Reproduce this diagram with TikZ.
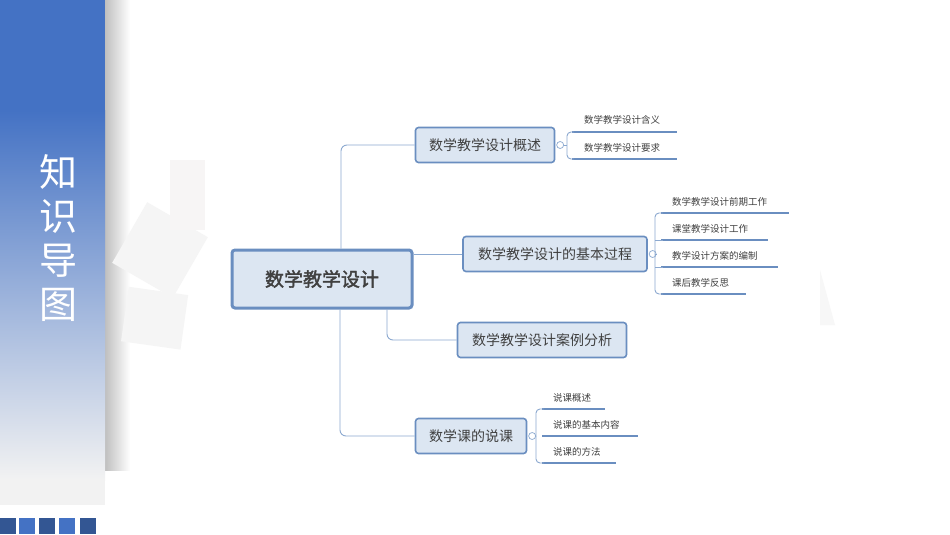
\documentclass[tikz,border=0pt]{standalone}
\usepackage{fontspec}
\setmainfont{Noto Sans CJK SC}
\newfontfamily\cjkbold[FakeBold=2]{Noto Sans CJK SC}
\usetikzlibrary{positioning}
\definecolor{panelblue}{HTML}{4472C4}
\definecolor{boxfill}{HTML}{DCE6F2}
\definecolor{boxline}{HTML}{6A8EC0}
\definecolor{linkcol}{HTML}{8CA9D0}
\definecolor{txt}{HTML}{404040}
\tikzset{
  topic/.style={draw=boxline, fill=boxfill, rounded corners=3pt, line width=1.6pt,
    minimum height=35pt, inner xsep=10pt, text=txt, font=\fontsize{14}{16}\selectfont},
  leaf/.style={anchor=west, inner sep=0pt, text=txt, font=\fontsize{9.5}{11}\selectfont},
  link/.style={draw=linkcol, line width=0.9pt},
  uline/.style={draw=boxline, line width=1.8pt},
  knob/.style={circle, draw=linkcol, fill=white, line width=0.7pt, inner sep=0pt, minimum size=7pt},
  sq/.style={minimum size=16pt, inner sep=0pt, anchor=north west}
}
\begin{document}
\begin{tikzpicture}[x=1pt,y=-1pt]
\useasboundingbox (0,0) rectangle (950,535);
\fill[white] (0,0) rectangle (950,535);
% side panel
\fill[left color=black!25, right color=white] (105,0) rectangle (130,470);
\fill[panelblue] (0,0) rectangle (105,110);
\shade[top color=panelblue, bottom color=black!5] (0,110) rectangle (105,480);
\fill[black!5] (0,480) rectangle (105,505);
\node[text=white, font=\fontsize{38}{44}\selectfont, align=center] (title) at (58,238) {知\\识\\导\\图};
% faint squares
\fill[black!4, rotate around={-30:(160,250)}] (125,215) rectangle (195,285);
\fill[red!20!black!4] (170,160) rectangle (205,230);
\fill[black!4, rotate around={-8:(150,315)}] (125,290) rectangle (185,345);
\fill[black!3] (820,270) -- (835,325) -- (820,325) -- cycle;
% bottom squares
\node[sq, fill=panelblue!75!black] (s1) at (0,518) {};
\node[sq, fill=panelblue] (s2) at (19,518) {};
\node[sq, fill=panelblue!75!black] (s3) at (39,518) {};
\node[sq, fill=panelblue] (s4) at (59,518) {};
\node[sq, fill=panelblue!75!black] (s5) at (80,518) {};

% topics
\node[topic, line width=3pt, minimum width=180pt, minimum height=58pt, font=\fontsize{19}{22}\cjkbold] (root) at (322,279) {数学教学设计};
\node[topic, minimum width=139pt] (gaishu) at (485,145) {数学教学设计概述};
\node[topic, minimum width=184pt] (guocheng) at (555,254) {数学教学设计的基本过程};
\node[topic, minimum width=169pt] (anli) at (542,340) {数学教学设计案例分析};
\node[topic, minimum width=111pt] (shuoke) at (471,436) {数学课的说课};

% trunk links
\draw[link, rounded corners=6pt] ([xshift=19pt]root.north) |- (gaishu.west);
\draw[link] (root.east |- guocheng.west) -- (guocheng.west);
\draw[link, rounded corners=6pt] ([xshift=65pt]root.south) |- (anli.west);
\draw[link, rounded corners=6pt] ([xshift=18pt]root.south) |- (shuoke.west);

% branch 1
\node[knob, right=1pt of gaishu] (k1) {};
\node[leaf] (a1) at (584,120) {数学教学设计含义};
\node[leaf] (a2) at (584,148) {数学教学设计要求};
\draw[uline] (572,132) -- (677,132);
\draw[uline] (572,159) -- (677,159);
\draw[link] (k1) -- (567,145);
\draw[link, rounded corners=4pt] (574,132) -- (567,132) -- (567,159) -- (574,159);

% branch 2
\node[knob, right=1pt of guocheng] (k2) {};
\node[leaf] (b1) at (672,202) {数学教学设计前期工作};
\node[leaf] (b2) at (672,229) {课堂教学设计工作};
\node[leaf] (b3) at (672,256) {教学设计方案的编制};
\node[leaf] (b4) at (672,283) {课后教学反思};
\draw[uline] (661,213) -- (789,213);
\draw[uline] (661,240) -- (768,240);
\draw[uline] (661,267) -- (778,267);
\draw[uline] (661,294) -- (746,294);
\draw[link] (k2) -- (655,254);
\draw[link, rounded corners=4pt] (663,213) -- (655,213) -- (655,294) -- (663,294);
\draw[link] (655,240) -- (663,240);
\draw[link] (655,267) -- (663,267);

% branch 4
\node[knob, right=1pt of shuoke] (k4) {};
\node[leaf] (d1) at (553,398) {说课概述};
\node[leaf] (d2) at (553,425) {说课的基本内容};
\node[leaf] (d3) at (553,452) {说课的方法};
\draw[uline] (542,409) -- (605,409);
\draw[uline] (542,436) -- (638,436);
\draw[uline] (542,463) -- (616,463);
\draw[link] (k4) -- (536,436);
\draw[link, rounded corners=4pt] (544,409) -- (536,409) -- (536,463) -- (544,463);
\end{tikzpicture}
\end{document}
